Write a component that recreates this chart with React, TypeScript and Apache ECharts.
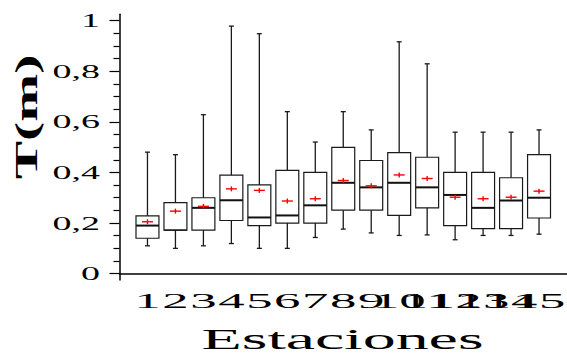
import React, { useEffect, useRef } from "react";
import * as echarts from "echarts";

// ---- data ----
const stations = [1, 2, 3, 4, 5, 6, 7, 8, 9, 10, 11, 12, 13, 14, 15];
const whiskerLow = [0.11, 0.1, 0.11, 0.119, 0.1, 0.1, 0.143, 0.176, 0.161, 0.151, 0.153, 0.134, 0.151, 0.151, 0.156];
const q1 = [0.14, 0.172, 0.172, 0.21, 0.19, 0.2, 0.2, 0.251, 0.251, 0.23, 0.26, 0.19, 0.178, 0.178, 0.22];
const median = [0.19, 0.172, 0.26, 0.29, 0.222, 0.23, 0.27, 0.359, 0.341, 0.359, 0.341, 0.311, 0.26, 0.289, 0.3];
const q3 = [0.228, 0.281, 0.3, 0.389, 0.351, 0.408, 0.4, 0.499, 0.447, 0.478, 0.46, 0.4, 0.4, 0.379, 0.47];
const whiskerHigh = [0.48, 0.47, 0.628, 0.978, 0.948, 0.64, 0.52, 0.64, 0.568, 0.916, 0.829, 0.559, 0.559, 0.559, 0.568];
const means = [0.205, 0.247, 0.266, 0.335, 0.329, 0.287, 0.296, 0.368, 0.347, 0.39, 0.376, 0.302, 0.296, 0.302, 0.326];
const yMajorTicks = [0, 0.2, 0.4, 0.6, 0.8, 1];
const yMajorLabels = ["0", "0,2", "0,4", "0,6", "0,8", "1"];
const yMinorTicks = [0.05, 0.1, 0.15, 0.25, 0.3, 0.35, 0.45, 0.5, 0.55, 0.65, 0.7, 0.75, 0.85, 0.9, 0.95];
const xTitle = "Estaciones";
const yTitle = "T(m)";

const Y_MIN = -0.025;
const Y_MAX = 1.025;
const FONT = "'Liberation Serif', 'Times New Roman', serif";

export default function App() {
  const ref = useRef<HTMLDivElement>(null);
  useEffect(() => {
    if (!ref.current) return;
    const chart = echarts.init(ref.current, undefined, { renderer: "svg" });

    const boxData = stations.map((s, i) => [s, whiskerLow[i], q1[i], median[i], q3[i], whiskerHigh[i], means[i]]);
    const stroke = "#1a1a1a";

    const option: any = {
      animation: false,
      backgroundColor: "#fff",
      grid: { left: 119.5, right: 0, top: 14.2, bottom: 76, containLabel: false },
      xAxis: {
        type: "value",
        min: 0,
        max: 16,
        axisLine: { show: true, lineStyle: { color: "#000", width: 1.5 } },
        axisTick: { show: false },
        axisLabel: { show: false },
        splitLine: { show: false },
      },
      yAxis: [
        {
          type: "value",
          min: Y_MIN,
          max: Y_MAX,
          offset: 0,
          axisLine: { show: true, lineStyle: { color: "#000", width: 1.5 } },
          axisTick: { show: true, length: 10, customValues: yMajorTicks, lineStyle: { color: "#000", width: 1.2 } },
          axisLabel: { show: false },
          splitLine: { show: false },
        },
        {
          type: "value",
          min: Y_MIN,
          max: Y_MAX,
          position: "left",
          offset: 0,
          axisLine: { show: false },
          axisTick: { show: true, length: 6, customValues: yMinorTicks, lineStyle: { color: "#000", width: 1.2 } },
          axisLabel: { show: false },
          splitLine: { show: false },
        },
      ],
      graphic: [
        {
          type: "text",
          x: 26,
          y: 117,
          rotation: Math.PI / 2,
          scaleX: 1.8,
          style: {
            text: yTitle,
            fontSize: 32,
            fontWeight: "bold",
            fontFamily: FONT,
            fill: "#000",
            align: "center",
            verticalAlign: "middle",
            textAlign: "center",
            textVerticalAlign: "middle",
          },
        },
        {
          type: "text",
          x: 342.5,
          y: 338.3,
          scaleX: 2.2,
          style: {
            text: xTitle,
            fontSize: 30,
            fontFamily: FONT,
            fill: "#000",
            align: "center",
            verticalAlign: "middle",
            textAlign: "center",
            textVerticalAlign: "middle",
          },
        },
      ],
      series: [
        {
          type: "custom",
          name: "boxes",
          coordinateSystem: "cartesian2d",
          xAxisIndex: 0,
          yAxisIndex: 0,
          data: boxData,
          encode: { x: 0, y: [1, 5] },
          renderItem: (params: any, api: any) => {
            const x = api.value(0);
            const pLow = api.coord([x, api.value(1)]);
            const pQ1 = api.coord([x, api.value(2)]);
            const pMed = api.coord([x, api.value(3)]);
            const pQ3 = api.coord([x, api.value(4)]);
            const pHigh = api.coord([x, api.value(5)]);
            const pMean = api.coord([x, api.value(6)]);
            const cx = pLow[0];
            const halfW = api.size([1, 0])[0] * 0.41;
            const cap = 2.5;
            const ln = (x1: number, y1: number, x2: number, y2: number, st: any) => ({
              type: "line",
              shape: { x1, y1, x2, y2 },
              style: st,
            });
            const wStyle = { stroke, lineWidth: 1.3 };
            const medOnEdge = api.value(3) === api.value(2) || api.value(3) === api.value(4);
            return {
              type: "group",
              children: [
                ln(cx, pHigh[1], cx, pQ3[1], wStyle),
                ln(cx - cap, pHigh[1], cx + cap, pHigh[1], wStyle),
                ln(cx, pQ1[1], cx, pLow[1], wStyle),
                ln(cx - cap, pLow[1], cx + cap, pLow[1], wStyle),
                {
                  type: "rect",
                  shape: { x: cx - halfW, y: pQ3[1], width: halfW * 2, height: pQ1[1] - pQ3[1] },
                  style: { fill: "none", stroke, lineWidth: 1.2 },
                },
                ln(cx - halfW, pMed[1], cx + halfW, pMed[1], { stroke: "#111", lineWidth: medOnEdge ? 1.2 : 2 }),
                ln(cx - 5.5, pMean[1], cx + 5.5, pMean[1], { stroke: "#ff0000", lineWidth: 1.4 }),
                ln(cx, pMean[1] - 2.5, cx, pMean[1] + 2.5, { stroke: "#ff0000", lineWidth: 1.4 }),
              ],
            };
          },
        },
        {
          type: "custom",
          name: "xLabels",
          coordinateSystem: "cartesian2d",
          data: stations.map((s) => [s, Y_MIN]),
          renderItem: (params: any, api: any) => {
            const p = api.coord([api.value(0), api.value(1)]);
            return {
              type: "text",
              x: p[0],
              y: p[1] + 21,
              scaleX: 2.4,
              style: {
                text: String(stations[params.dataIndex]),
                fontSize: 22,
                fontFamily: FONT,
                fill: "#000",
                align: "center",
                verticalAlign: "middle",
                textAlign: "center",
                textVerticalAlign: "middle",
              },
            };
          },
        },
        {
          type: "custom",
          name: "yLabels",
          coordinateSystem: "cartesian2d",
          data: yMajorTicks.map((v) => [0, v]),
          renderItem: (params: any, api: any) => {
            const p = api.coord([api.value(0), api.value(1)]);
            return {
              type: "text",
              x: p[0] - 19.5,
              y: p[1],
              scaleX: 2.0,
              style: {
                text: yMajorLabels[params.dataIndex],
                fontSize: 19,
                fontFamily: FONT,
                fill: "#000",
                align: "right",
                verticalAlign: "middle",
                textAlign: "right",
                textVerticalAlign: "middle",
              },
            };
          },
        },
      ],
    };
    chart.setOption(option);
    return () => chart.dispose();
  }, []);
  return <div ref={ref} style={{ width: 567, height: 356, position: "absolute", left: 0, top: 0 }} />;
}
